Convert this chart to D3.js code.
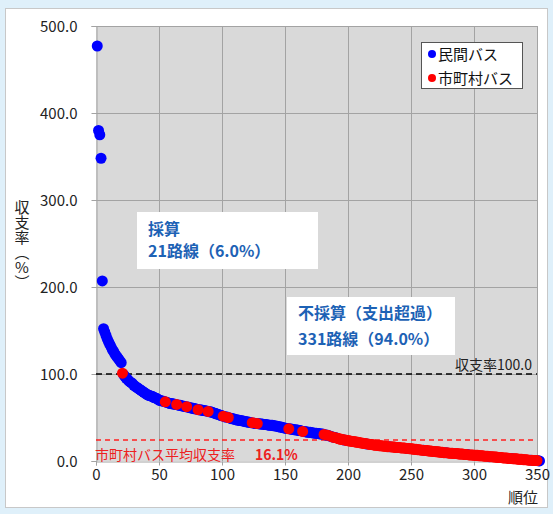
<!DOCTYPE html>
<html><head><meta charset="utf-8">
<script src="https://cdn.jsdelivr.net/npm/d3@7"></script>
<style>
html,body{margin:0;padding:0;background:#dff0fa;}
svg{display:block;font-family:"Noto Sans CJK JP","Noto Sans",sans-serif;}
</style></head>
<body><svg id="c" width="553" height="514"></svg>
<script>
// revenue/cost ratio (%) by rank 1..352
const ratios = [
477,380,375,348,207,152,148,144,140,137,
134,131,128,126,123,121,119,117,115,113,
101,99,97,95,94,92,91,90,89,87,
86,85,84,83,82,81,80,79,78,77,
76,75.5,75,74.5,74,73,72.5,72,71,70,
69.5,69,69,68.5,68,67.5,67,66.5,66,66,
65.5,65.5,65,65,64.5,64,64,63.5,63,63,
62.5,62.5,62,61.5,61,61,60.5,60,60,59.5,
59,59,58.5,58.5,58,58,57.5,57.5,57,56.5,
56.5,56,55.5,55,54.5,54,53.5,53,52.5,52,
51.5,51,50.5,50.5,50,49.5,49,48.5,48.5,48,
47.5,47,47,46.5,46.5,46,46,45.5,45,45,
44.5,44.5,44,44,43.5,43.5,43,43,43,42.5,
42.5,42.5,42,42,42,41.5,41.5,41,41,41,
40.5,40.5,40,40,39.5,39,39,38.5,38,38,
37.5,37.5,37,37,36.5,36.5,36,36,35.5,35.5,
35,35,34.5,34,34,33.5,33.5,33,33,33,
32.5,32.5,32,32,32,31.5,31.5,31,31,31,
30.5,30,30,29.5,29,28.5,28,27.5,27,27,
26.5,26,25.5,25,25,24.5,24,24,23.5,23.5,
23,23,22.5,22.5,22,22,21.5,21.5,21,21,
20.5,20.5,20,20,19.5,19.5,19,19,19,18.5,
18.5,18,18,18,17.5,17.5,17.5,17,17,17,
16.5,16.5,16.5,16.5,16,16,16,15.5,15.5,15.5,
15.5,15,15,15,15,14.5,14.5,14.5,14,14,
14,13.5,13.5,13.5,13,13,13,12.5,12.5,12.5,
12,12,12,11.5,11.5,11.5,11,11,11,10.5,
10.5,10.5,10,10,10,9.5,9.5,9.5,9.5,9,
9,9,9,8.5,8.5,8.5,8.5,8,8,8,
8,7.5,7.5,7.5,7.5,7,7,7,7,6.5,
6.5,6.5,6.5,6,6,6,6,5.5,5.5,5.5,
5.5,5,5,5,5,4.5,4.5,4.5,4,4,
4,4,3.5,3.5,3.5,3.5,3,3,3,3,
2.5,2.5,2.5,2.5,2,2,2,2,1.5,1.5,
1.5,1.5,1,1,1,1,0.5,0.5,0.5,0.5,
0.2,0.1
];
// ranks operated by municipalities (市町村バス); all others are 民間バス
const municipalIsolated = [21,55,64,72,81,89,101,105,124,128,153,164,181,184,187,189];
const tailStart = 191, tailEnd = 350;
const tailPrivate = [197,215,233,247,260,278,295,312,330,345];
const xTicks = [0,50,100,150,200,250,300,350];
const yTicks = [0,100,200,300,400,500];
const legendLabels = ["民間バス","市町村バス"];
const colors = ["#0000ff","#ff0000"];
const breakEven = 100;        // 収支率100.0 line
const avgLineValue = 24;      // position of the dashed average line as drawn
const avgLabel = "市町村バス平均収支率";
const avgValueLabel = "16.1%";

const municipalSet = new Set(municipalIsolated);
for (let r = tailStart; r <= tailEnd; r++) if (!tailPrivate.includes(r)) municipalSet.add(r);
const pts = ratios.map((v,i)=>({rank:i+1,value:v,m:municipalSet.has(i+1)}));
const privatePts = pts.filter(d=>!d.m), municipalPts = pts.filter(d=>d.m);

const svg = d3.select("#c");
// frame
svg.append("rect").attr("x",5.5).attr("y",8.5).attr("width",542).attr("height",499)
  .attr("fill","#fff").attr("stroke","#c8c8c8");

const x = d3.scaleLinear().domain([0,350]).range([96,537]);
const y = d3.scaleLinear().domain([0,500]).range([461,26]);

svg.append("rect").attr("x",x(0)).attr("y",y(500)).attr("width",x(350)-x(0)).attr("height",y(0)-y(500))
  .attr("fill","#d9d9d9");
// grid
svg.append("g").selectAll("line").data(xTicks.slice(1)).join("line")
  .attr("x1",d=>x(d)+0.5).attr("x2",d=>x(d)+0.5).attr("y1",y(500)).attr("y2",y(0))
  .attr("stroke","#a3a3a3");
svg.append("g").selectAll("line").data(yTicks.slice(1)).join("line")
  .attr("x1",x(0)).attr("x2",x(350)).attr("y1",d=>y(d)+0.5).attr("y2",d=>y(d)+0.5)
  .attr("stroke","#a3a3a3");

// axes
const ya = svg.append("g").attr("transform",`translate(${x(0)+0.5},0)`)
  .call(d3.axisLeft(y).tickValues(yTicks).tickFormat(d3.format(".1f")).tickSize(5).tickPadding(14));
const xa = svg.append("g").attr("transform",`translate(0,${y(0)+0.5})`)
  .call(d3.axisBottom(x).tickValues(xTicks).tickSize(4).tickPadding(4));
[ya,xa].forEach(g=>{
  g.select(".domain").attr("stroke","#a3a3a3");
  g.selectAll(".tick line").attr("stroke","#a3a3a3");
  g.selectAll("text").attr("font-size",15).attr("fill","#222")
   .attr("font-family",'"Noto Sans CJK JP",sans-serif');
});
ya.selectAll("text").attr("dy","0.35em");

// reference lines
svg.append("line").attr("x1",x(0)).attr("x2",x(350)).attr("y1",y(breakEven)).attr("y2",y(breakEven))
  .attr("stroke","#000").attr("stroke-width",1.5).attr("stroke-dasharray","6,4");
svg.append("line").attr("x1",x(0)).attr("x2",x(350)).attr("y1",y(avgLineValue)).attr("y2",y(avgLineValue))
  .attr("stroke","#ff2020").attr("stroke-width",1.5).attr("stroke-dasharray","5,4");

// points
svg.append("g").selectAll("circle").data(privatePts).join("circle")
  .attr("cx",d=>x(d.rank)).attr("cy",d=>y(d.value)).attr("r",5.5).attr("fill",colors[0]);
svg.append("g").selectAll("circle").data(municipalPts).join("circle")
  .attr("cx",d=>x(d.rank)).attr("cy",d=>y(d.value)).attr("r",5.5).attr("fill",colors[1]);

// labels
svg.append("text").attr("x",532).attr("y",370).attr("text-anchor","end").attr("font-size",14)
  .attr("fill","#222").text("収支率100.0");
const avg = svg.append("text").attr("x",95).attr("y",460).attr("font-size",14).attr("fill","#ee2020");
avg.append("tspan").text(avgLabel);
avg.append("tspan").attr("x",255).attr("font-weight","bold").text(avgValueLabel);

// text boxes
function box(x0,y0,w,h,lines){
  svg.append("rect").attr("x",x0).attr("y",y0).attr("width",w).attr("height",h).attr("fill","#fff");
  lines.forEach(l=>svg.append("text").attr("x",x0+11).attr("y",l[1]).attr("font-size",16)
    .attr("font-weight","bold").attr("fill","#1d62b5").text(l[0]));
}
box(137,212,181,57,[["採算",235],["21路線（6.0%）",257]]);
box(287,297,168,58,[["不採算（支出超過）",319],["331路線（94.0%）",345]]);

// legend
svg.append("rect").attr("x",421.5).attr("y",42.5).attr("width",101).attr("height",46)
  .attr("fill","#fff").attr("stroke","#555");
legendLabels.forEach((t,i)=>{
  svg.append("circle").attr("cx",432).attr("cy",54+i*24).attr("r",4).attr("fill",colors[i]);
  svg.append("text").attr("x",438).attr("y",59.5+i*24).attr("font-size",15).attr("fill","#111").text(t);
});

// axis titles: vertical upright text
svg.append("text").attr("x",22).attr("y",200)
  .style("writing-mode","vertical-rl").style("text-orientation","upright")
  .attr("font-size",15).attr("fill","#222").text("収支率（%）");
svg.append("text").attr("x",538).attr("y",503).attr("text-anchor","end").attr("font-size",15)
  .attr("fill","#222").text("順位");
</script></body></html>
